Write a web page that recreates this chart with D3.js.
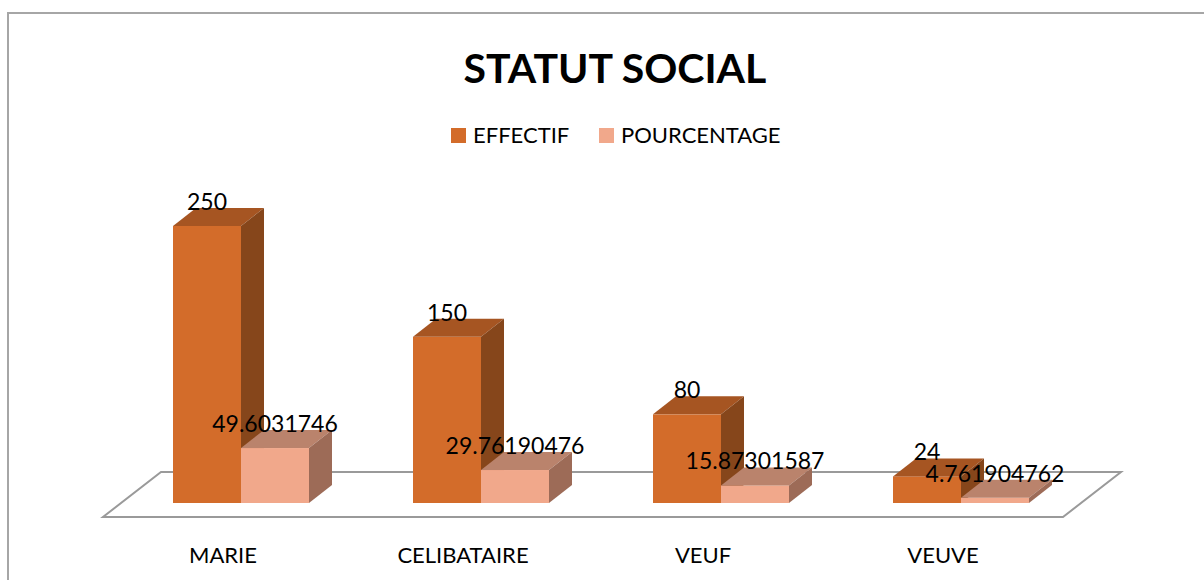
<!DOCTYPE html>
<html>
<head>
<meta charset="utf-8">
<script src="https://cdn.jsdelivr.net/npm/d3@7"></script>
<style>
  body { margin: 0; background: #fff; }
  svg { display: block; font-family: Lato, "Open Sans", sans-serif; }
</style>
</head>
<body>
<div id="chart"></div>
<script>
// chart data
const categories = ["MARIE", "CELIBATAIRE", "VEUF", "VEUVE"];
const seriesNames = ["EFFECTIF", "POURCENTAGE"];
const effectif = [250, 150, 80, 24];
const pourcentage = [49.6031746, 29.76190476, 15.87301587, 4.761904762];
const effectifLabels = ["250", "150", "80", "24"];
const pourcentageLabels = ["49.6031746", "29.76190476", "15.87301587", "4.761904762"];

const w = 1204, h = 580;

// colours for each series: front, top, side
const colors = {
  EFFECTIF: { front: "#d36c2a", top: "#a65522", side: "#86461b" },
  POURCENTAGE: { front: "#f1a88b", top: "#ba836c", side: "#9d6b57" }
};

const svg = d3.select("#chart")
  .append("svg")
  .attr("width", w)
  .attr("height", h);

// outer chart border (runs off the right and bottom)
svg.append("rect")
  .attr("x", 8).attr("y", 13)
  .attr("width", w).attr("height", h)
  .attr("fill", "#fff")
  .attr("stroke", "#a6a6a6")
  .attr("stroke-width", 2);

// Title
svg.append("text")
  .attr("x", 615).attr("y", 83)
  .attr("text-anchor", "middle")
  .style("font-size", "41px")
  .style("font-weight", "bold")
  .text("STATUT SOCIAL");

// scales
const xScale = d3.scaleBand().domain(categories).range([103, 1063]);
const inner = d3.scaleBand().domain(seriesNames).range([0, 136]);
const yScale = d3.scaleLinear().domain([0, 250]).range([503, 226]);

// 3D offsets
const floorDx = 58, floorDy = -45;
const barDx = 23, barDy = -18;
const barShift = 18; // bars sit a bit back on the floor

// floor
const floorFront = yScale(0) + 14;
const fx0 = xScale.range()[0], fx1 = xScale.range()[1];
svg.append("polygon")
  .attr("points", [
    [fx0, floorFront], [fx1, floorFront],
    [fx1 + floorDx, floorFront + floorDy], [fx0 + floorDx, floorFront + floorDy]
  ].map(p => p.join(",")).join(" "))
  .attr("fill", "#fff")
  .attr("stroke", "#9a9a9a")
  .attr("stroke-width", 2);

// build bar records
const bars = [];
categories.forEach((c, i) => {
  bars.push({ cat: c, s: "EFFECTIF", v: effectif[i], label: effectifLabels[i] });
  bars.push({ cat: c, s: "POURCENTAGE", v: pourcentage[i], label: pourcentageLabels[i] });
});

const barX = d => xScale(d.cat) + (xScale.bandwidth() - 136) / 2 + barShift + inner(d.s);

const g = svg.selectAll("g.bar")
  .data(bars)
  .enter()
  .append("g")
  .attr("class", "bar");

// front face
g.append("rect")
  .attr("x", d => barX(d))
  .attr("y", d => yScale(d.v))
  .attr("width", inner.bandwidth())
  .attr("height", d => yScale(0) - yScale(d.v))
  .attr("fill", d => colors[d.s].front);

// top face
g.append("polygon")
  .attr("points", d => {
    const x0 = barX(d), x1 = x0 + inner.bandwidth(), y0 = yScale(d.v);
    return [[x0, y0], [x1, y0], [x1 + barDx, y0 + barDy], [x0 + barDx, y0 + barDy]]
      .map(p => p.join(",")).join(" ");
  })
  .attr("fill", d => colors[d.s].top);

// side face
g.append("polygon")
  .attr("points", d => {
    const x1 = barX(d) + inner.bandwidth(), yt = yScale(d.v), yb = yScale(0);
    return [[x1, yt], [x1 + barDx, yt + barDy], [x1 + barDx, yb + barDy], [x1, yb]]
      .map(p => p.join(",")).join(" ");
  })
  .attr("fill", d => colors[d.s].side);

// value labels
svg.selectAll("text.value")
  .data(bars)
  .enter()
  .append("text")
  .attr("class", "value")
  .attr("x", d => barX(d) + inner.bandwidth() / 2)
  .attr("y", d => yScale(d.v) - 16)
  .attr("text-anchor", "middle")
  .style("font-size", "23px")
  .text(d => d.label);

// category labels
svg.selectAll("text.cat")
  .data(categories)
  .enter()
  .append("text")
  .attr("class", "cat")
  .attr("x", d => xScale(d) + xScale.bandwidth() / 2)
  .attr("y", 563)
  .attr("text-anchor", "middle")
  .style("font-size", "22px")
  .text(d => d);

// legend
const legendX = [451, 599];
const legend = svg.selectAll("g.legend")
  .data(seriesNames)
  .enter()
  .append("g")
  .attr("class", "legend")
  .attr("transform", (d, i) => "translate(" + legendX[i] + ",128)");

legend.append("rect")
  .attr("width", 15).attr("height", 15)
  .attr("fill", d => colors[d].front);

legend.append("text")
  .attr("x", 22).attr("y", 15)
  .style("font-size", "22px")
  .text(d => d);
</script>
</body>
</html>
